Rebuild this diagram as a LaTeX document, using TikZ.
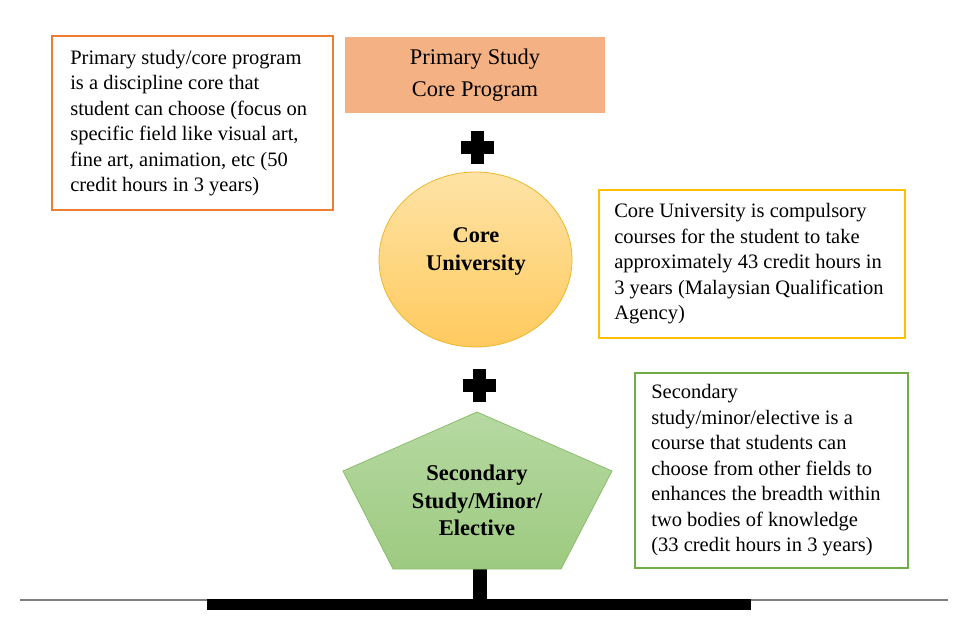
\documentclass[tikz,border=0pt]{standalone}
\usepackage{fontspec}
\setmainfont{Liberation Serif}
\usetikzlibrary{shapes.geometric}
\definecolor{orangeB}{HTML}{ED7D31}
\definecolor{orangeF}{HTML}{F4B183}
\definecolor{goldB}{HTML}{FFC000}
\definecolor{greenB}{HTML}{70AD47}
\definecolor{ellTop}{HTML}{FEE3A6}
\definecolor{ellBot}{HTML}{FFCA5E}
\definecolor{ellB}{HTML}{EDB62B}
\definecolor{penTop}{HTML}{B6D9A2}
\definecolor{penBot}{HTML}{9DCA80}
\definecolor{penB}{HTML}{8BBD6C}
\definecolor{rule}{HTML}{808080}
\tikzset{
  noteframe/.style={draw, line width=1.8pt, rectangle, inner sep=0pt},
  notetext/.style={anchor=west, align=left, inner sep=0pt,
    font=\fontsize{20.5}{25.5}\selectfont},
  boldlabel/.style={align=center, font=\bfseries\fontsize{22.4}{28}\selectfont},
  plussign/.pic={\fill[black] (-16.5,-6.5) rectangle (16.5,6.5);
                 \fill[black] (-6.5,-16.5) rectangle (6.5,16.5);}
}
\begin{document}
\begin{tikzpicture}[x=1pt,y=-1pt]
\useasboundingbox (0,0) rectangle (963,633);

% baseline rule and bar
\draw[rule, line width=1.5pt] (20,600) coordinate (ruleL) -- (948,600) coordinate (ruleR);
\fill[black] (207,599) rectangle (751,610);
\fill[black] (473,566) rectangle (487,600);

% left note
\node[noteframe, draw=orangeB, minimum width=281pt, minimum height=174pt] (primnote) at (192.5,123) {};
\node[notetext] (primnotetext) at ([xshift=19pt]primnote.west)
  {Primary study/core program\\ is a discipline core that\\ student can choose (focus on\\ specific field like visual art,\\ fine art, animation, etc (50\\ credit hours in 3 years)};

% top box
\node[fill=orangeF, minimum width=260pt, minimum height=76pt, align=center,
      font=\fontsize{22.4}{31.7}\selectfont] (primary) at (475,75)
  {Primary Study\\Core Program};

\pic at (477,147) {plussign};

% core university ellipse
\node[ellipse, draw=ellB, line width=0.8pt, top color=ellTop, bottom color=ellBot,
      minimum width=193pt, minimum height=175pt] (coreu) at (475.5,259.5) {};
\node[boldlabel] (coreulabel) at (476,251) {Core\\University};

% core university note
\node[noteframe, draw=goldB, minimum width=306pt, minimum height=148pt] (corenote) at (752,264) {};
\node[notetext] (corenotetext) at ([xshift=16pt]corenote.west)
  {Core University is compulsory\\ courses for the student to take\\ approximately 43 credit hours in\\ 3 years (Malaysian Qualification\\ Agency)};

\pic at (479,385) {plussign};

% secondary pentagon
\path[draw=penB, line width=0.8pt, top color=penTop, bottom color=penBot]
  (477,412) -- (612,471) -- (561,569) -- (393,569) -- (343,471) -- cycle;
\node[boldlabel, font=\bfseries\fontsize{22.5}{27.5}\selectfont] (secondary) at (477,500.5)
  {Secondary\\Study/Minor/\\Elective};

% secondary note
\node[noteframe, draw=greenB, minimum width=273pt, minimum height=195pt] (secnote) at (771.5,470.5) {};
\node[notetext] (secnotetext) at ([xshift=17pt]secnote.west)
  {Secondary\\ study/minor/elective is a\\ course that students can\\ choose from other fields to\\ enhances the breadth within\\ two bodies of knowledge\\ (33 credit hours in 3 years)};
\end{tikzpicture}
\end{document}
